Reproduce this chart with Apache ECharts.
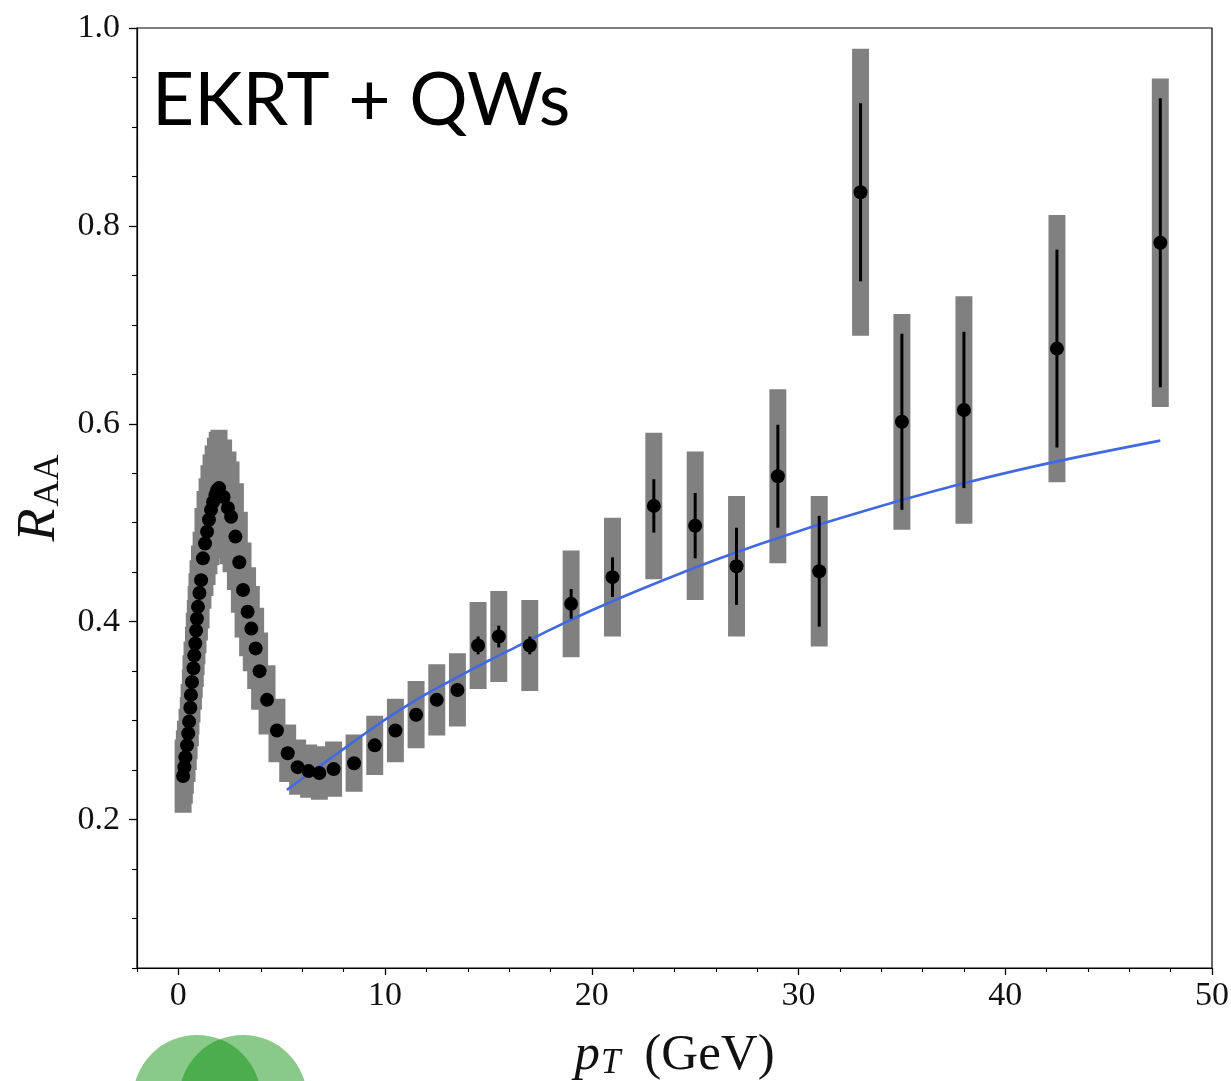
<!DOCTYPE html>
<html><head><meta charset="utf-8">
<script src="https://cdn.jsdelivr.net/npm/echarts@6/dist/echarts.min.js"></script>
<style>html,body{margin:0;padding:0;background:#fff}#c{width:1231px;height:1081px}</style>
</head><body><div id="c"></div>
<script>
// Data points (pT in GeV, nuclear modification factor)
const pT = [0.23,0.29,0.34,0.42,0.48,0.52,0.58,0.61,0.66,0.73,0.77,0.82,0.86,0.90,0.95,1.02,1.10,1.19,1.29,1.39,1.48,1.58,1.68,1.79,1.88,1.97,
  2.19,2.40,2.55,2.76,2.95,3.13,3.35,3.53,3.74,3.93,4.29,4.77,5.29,5.77,6.30,6.82,7.51,
  8.5,9.5,10.5,11.5,12.5,13.5,
  14.5,15.5,17,19,21,23,25,27,29,31,33,35,38,42.5,47.5];
const raa = [0.244,0.253,0.263,0.275,0.287,0.299,0.313,0.326,0.339,0.353,0.366,0.378,0.391,0.403,0.415,0.429,0.442,0.464,0.479,0.491,0.503,0.513,0.521,0.528,0.533,0.535,
  0.526,0.515,0.506,0.486,0.460,0.432,0.410,0.393,0.373,0.350,0.321,0.290,0.267,0.253,0.249,0.247,0.251,
  0.257,0.275,0.290,0.306,0.321,0.331,
  0.376,0.385,0.376,0.418,0.445,0.517,0.497,0.456,0.547,0.451,0.834,0.602,0.614,0.676,0.783];
const sysErr = [0.037,0.037,0.037,0.037,0.037,0.038,0.039,0.040,0.041,0.042,0.043,0.044,0.045,0.046,0.047,0.048,0.049,0.051,0.053,0.054,0.055,0.056,0.057,0.058,0.059,0.059,
  0.058,0.057,0.056,0.054,0.051,0.048,0.045,0.043,0.041,0.039,0.035,0.032,0.029,0.028,0.027,0.027,0.028,
  0.029,0.030,0.032,0.034,0.036,0.037,
  0.044,0.046,0.046,0.054,0.060,0.074,0.075,0.071,0.088,0.076,0.145,0.109,0.115,0.135,0.166];
const statErr = [0,0,0,0,0,0,0,0,0,0,0,0,0,0,0,0,0,0,0,0,0,0,0,0,0,0,
  0,0,0,0,0,0,0,0,0,0,0,0,0,0,0,0,0,
  0,0,0,0,0,0,
  0.009,0.011,0.009,0.015,0.020,0.027,0.033,0.039,0.052,0.056,0.090,0.089,0.079,0.100,0.146];
// Model curve
const modelPT  = [5.25,6,7,8,9,10,11,12,13,14,15,16,18,20,22,24,26,28,30,32,35,38,42.5,47.5];
const modelRAA = [0.230,0.2415,0.2565,0.2715,0.2865,0.301,0.3145,0.327,0.3385,0.3495,0.3605,0.371,0.392,0.4115,0.4295,0.4465,0.4625,0.4775,0.4915,0.5045,0.523,0.540,0.562,0.583];
// Ticks
const xMajorTicks = [0,10,20,30,40,50];
const xMinorTicks = [-2,2,4,6,8,12,14,16,18,22,24,26,28,32,34,36,38,42,44,46,48];
const yMajorTicks = [0.2,0.4,0.6,0.8,1.0];
const yMinorTicks = [0.05,0.1,0.15,0.25,0.3,0.35,0.45,0.5,0.55,0.65,0.7,0.75,0.85,0.9,0.95];

const chart = echarts.init(document.getElementById('c'), null, {renderer:'canvas'});
const SERIF = 'Liberation Serif';
const boxHalf = 0.41;

const option = {
  backgroundColor:'#fff',
  animation:false,
  grid:{left:137, right:19, top:28, bottom:113, show:true, borderColor:'#000', borderWidth:1.2, containLabel:false, outerBoundsMode:'none'},
  xAxis:[{
    type:'value', min:-2, max:50, position:'bottom',
    axisLine:{show:true, onZero:false, lineStyle:{color:'#000', width:1.2}},
    axisTick:{show:true, customValues:xMajorTicks, length:7, lineStyle:{color:'#000', width:1.3}},
    axisLabel:{customValues:xMajorTicks, fontFamily:SERIF, fontSize:34, color:'#111', margin:11},
    splitLine:{show:false},
    name:'{i|p}{s|T}{r|(GeV)}', nameLocation:'middle', nameGap:55,
    nameTextStyle:{fontFamily:SERIF, fontSize:51, color:'#111',
      rich:{
        i:{fontFamily:SERIF, fontStyle:'italic', fontSize:51, lineHeight:51, verticalAlign:'top', color:'#111'},
        s:{fontFamily:SERIF, fontStyle:'italic', fontSize:35, lineHeight:35, padding:[28,0,0,1], verticalAlign:'bottom', color:'#111'},
        r:{fontFamily:SERIF, fontSize:51, lineHeight:51, verticalAlign:'top', padding:[0,0,0,24], color:'#111'}
      }}
  },{
    type:'value', min:-2, max:50, position:'bottom',
    axisLine:{show:false, onZero:false},
    axisTick:{show:true, customValues:xMinorTicks, length:4, lineStyle:{color:'#000', width:1.1}},
    axisLabel:{show:false}, splitLine:{show:false}
  }],
  yAxis:[{
    type:'value', min:0.05, max:1.0, position:'left',
    axisLine:{show:true, onZero:false, lineStyle:{color:'#000', width:1.2}},
    axisTick:{show:true, customValues:yMajorTicks, length:8, lineStyle:{color:'#000', width:1.3}},
    axisLabel:{customValues:yMajorTicks, formatter:v=>v.toFixed(1), fontFamily:SERIF, fontSize:34, color:'#111', margin:17},
    splitLine:{show:false},
    name:'{i|R}{s|AA}', nameLocation:'middle', nameRotate:90, nameGap:64,
    nameTextStyle:{fontFamily:SERIF, fontSize:54, color:'#111',
      rich:{
        i:{fontFamily:SERIF, fontStyle:'italic', fontSize:54, lineHeight:54, verticalAlign:'top', color:'#111'},
        s:{fontFamily:SERIF, fontSize:36, lineHeight:36, padding:[26,0,0,2], verticalAlign:'bottom', color:'#111'}
      }}
  },{
    type:'value', min:0.05, max:1.0, position:'left',
    axisLine:{show:false, onZero:false},
    axisTick:{show:true, customValues:yMinorTicks, length:5, lineStyle:{color:'#000', width:1.1}},
    axisLabel:{show:false}, splitLine:{show:false}
  }],
  graphic:[
    {type:'text', left:152, top:65, z:100, style:{text:'EKRT + QWs', fontFamily:'Lato', fontSize:73, fontWeight:400, fill:'#000'}},
    {type:'circle', shape:{cx:197, cy:1099, r:64}, style:{fill:'rgba(8,142,11,0.48)'}, z:100},
    {type:'circle', shape:{cx:243, cy:1099, r:64}, style:{fill:'rgba(8,142,11,0.48)'}, z:100}
  ],
  series:[
    {
      name:'sys', type:'custom', z:1, xAxisIndex:0, yAxisIndex:0,
      data:pT.map((x,i)=>[x, raa[i], sysErr[i]]),
      renderItem:(params, api)=>{
        const x=api.value(0), y=api.value(1), e=api.value(2);
        const p1=api.coord([x-boxHalf, y+e]), p2=api.coord([x+boxHalf, y-e]);
        return {type:'rect', shape:{x:p1[0], y:p1[1], width:p2[0]-p1[0], height:p2[1]-p1[1]}, style:{fill:'#808080'}};
      }
    },
    {
      name:'model', type:'line', z:2, xAxisIndex:0, yAxisIndex:0,
      data:modelPT.map((x,i)=>[x, modelRAA[i]]),
      smooth:0.3, symbol:'none', lineStyle:{color:'#4169e1', width:2.6}
    },
    {
      name:'stat', type:'custom', z:3, xAxisIndex:0, yAxisIndex:0,
      data:pT.map((x,i)=>[x, raa[i], statErr[i]]),
      renderItem:(params, api)=>{
        const x=api.value(0), y=api.value(1), e=api.value(2);
        if (!(e>0)) return null;
        const p1=api.coord([x, y+e]), p2=api.coord([x, y-e]);
        return {type:'line', shape:{x1:p1[0], y1:p1[1], x2:p2[0], y2:p2[1]}, style:{stroke:'#000', lineWidth:3}};
      }
    },
    {
      name:'data', type:'scatter', z:4, xAxisIndex:0, yAxisIndex:0,
      data:pT.map((x,i)=>[x, raa[i]]),
      symbol:'circle', symbolSize:14, itemStyle:{color:'#000', opacity:1}
    }
  ]
};
chart.setOption(option);
</script>
</body></html>
